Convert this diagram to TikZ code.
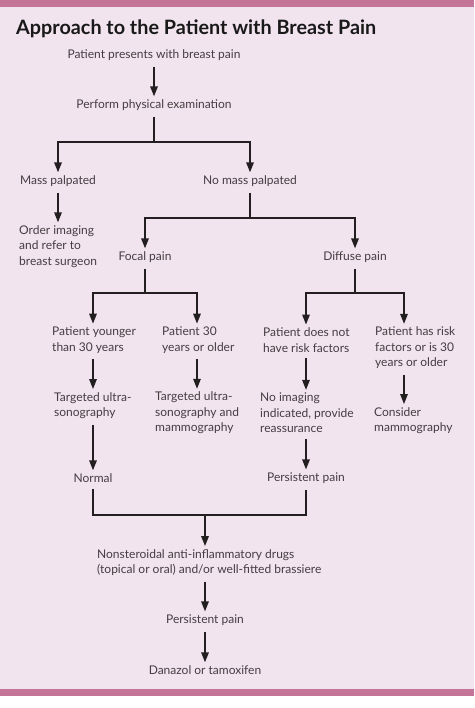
\documentclass[tikz,border=0pt]{standalone}
\usepackage{fontspec}
\setmainfont{Lato}
\usetikzlibrary{arrows.meta}
\definecolor{bandpink}{HTML}{C47399}
\definecolor{bgpink}{HTML}{F2E4EE}
\definecolor{txt}{HTML}{453D42}
\definecolor{ln}{HTML}{231F20}
\begin{document}
\begin{tikzpicture}[x=1pt,y=-1pt,
  lbl/.style={font=\fontsize{12}{15.5}\selectfont, text=txt, inner sep=0pt},
  ml/.style={lbl, align=left, anchor=west},
  wire/.style={draw=ln, line width=1.5pt, shorten <=6pt},
  arr/.style={wire, shorten >=3pt, -{Triangle[length=10pt,width=7.5pt]}}]
\useasboundingbox (0,0) rectangle (474,708);
\fill[white] (0,0) rectangle (474,708);
\fill[bandpink] (0,0) rectangle (474,7);
\fill[bgpink] (0,7) rectangle (474,689);
\fill[bandpink] (0,689) rectangle (474,696);

\node[anchor=base west, inner sep=0pt, font=\fontsize{19.8}{22}\selectfont\bfseries, text=black!90] (title) at (16,35) {Approach to the Patient with Breast Pain};

\node[lbl] (pp) at (154,55) {Patient presents with breast pain};
\node[lbl] (pe) at (154,105) {Perform physical examination};
\node[lbl] (mp) at (58,181) {Mass palpated};
\node[lbl] (nm) at (250,181) {No mass palpated};
\node[ml] (oi) at (19,246.5) {Order imaging\\and refer to\\breast surgeon};
\node[lbl] (fp) at (145,257) {Focal pain};
\node[lbl] (dp) at (355,257) {Diffuse pain};
\node[ml] (py) at (52,340) {Patient younger\\than 30 years};
\node[ml] (p30) at (162,340) {Patient 30\\years or older};
\node[ml] (pnr) at (263,340) {Patient does not\\have risk factors};
\node[ml] (phr) at (375,348) {Patient has risk\\factors or is 30\\years or older};
\node[ml] (tu) at (54,405.5) {Targeted ultra-\\sonography};
\node[ml] (tum) at (155,413) {Targeted ultra-\\sonography and\\mammography};
\node[ml] (ni) at (260,413) {No imaging\\indicated, provide\\reassurance};
\node[ml] (cm) at (374,420.5) {Consider\\mammography};
\node[lbl] (no) at (93,478) {Normal};
\node[lbl] (ps) at (306,478) {Persistent pain};
\node[ml] (ns) at (97,562.5) {Nonsteroidal anti-inflammatory drugs\\(topical or oral) and/or well-fitted brassiere};
\node[lbl] (ps2) at (205,620) {Persistent pain};
\node[lbl] (dz) at (205,670) {Danazol or tamoxifen};

\coordinate (j1) at (154,142);
\coordinate (j2) at (250,218);
\coordinate (j3) at (145,293);
\coordinate (j3b) at (355,293);
\coordinate (j4) at (205,515);
\coordinate (k1) at (93,0);
\coordinate (k2) at (197,0);
\coordinate (k3) at (306,0);
\coordinate (k4) at (404,0);
\coordinate (k0) at (58,0);

\draw[arr] (pp.south) -- (pe.north);
\draw[wire] (pe.south) -- (j1);
\draw[arr, shorten <=0pt] (j1) -| (mp.north);
\draw[arr, shorten <=0pt] (j1) -| (nm.north);
\draw[arr] (mp.south) -- (oi.north -| k0);
\draw[wire] (nm.south) -- (j2);
\draw[arr, shorten <=0pt] (j2) -| (fp.north);
\draw[arr, shorten <=0pt] (j2) -| (dp.north);
\draw[wire] (fp.south) -- (j3);
\draw[arr, shorten <=0pt] (j3) -| (py.north -| k1);
\draw[arr, shorten <=0pt] (j3) -| (p30.north -| k2);
\draw[wire] (dp.south) -- (j3b);
\draw[arr, shorten <=0pt] (j3b) -| (pnr.north -| k3);
\draw[arr, shorten <=0pt] (j3b) -| (phr.north -| k4);
\draw[arr] (py.south -| k1) -- (tu.north -| k1);
\draw[arr] (p30.south -| k2) -- (tum.north -| k2);
\draw[arr] (pnr.south -| k3) -- (ni.north -| k3);
\draw[arr] (phr.south -| k4) -- (cm.north -| k4);
\draw[arr] (tu.south -| k1) -- (no.north);
\draw[arr] (ni.south -| k3) -- (ps.north);
\draw[wire, shorten >=6pt] (no.south) -- (no.south |- j4) -- (ps.south |- j4) -- (ps.south);
\draw[arr, shorten <=0pt] (j4) -- (ns.north -| j4);
\draw[arr] (ns.south -| j4) -- (ps2.north);
\draw[arr] (ps2.south) -- (dz.north);
\end{tikzpicture}
\end{document}
